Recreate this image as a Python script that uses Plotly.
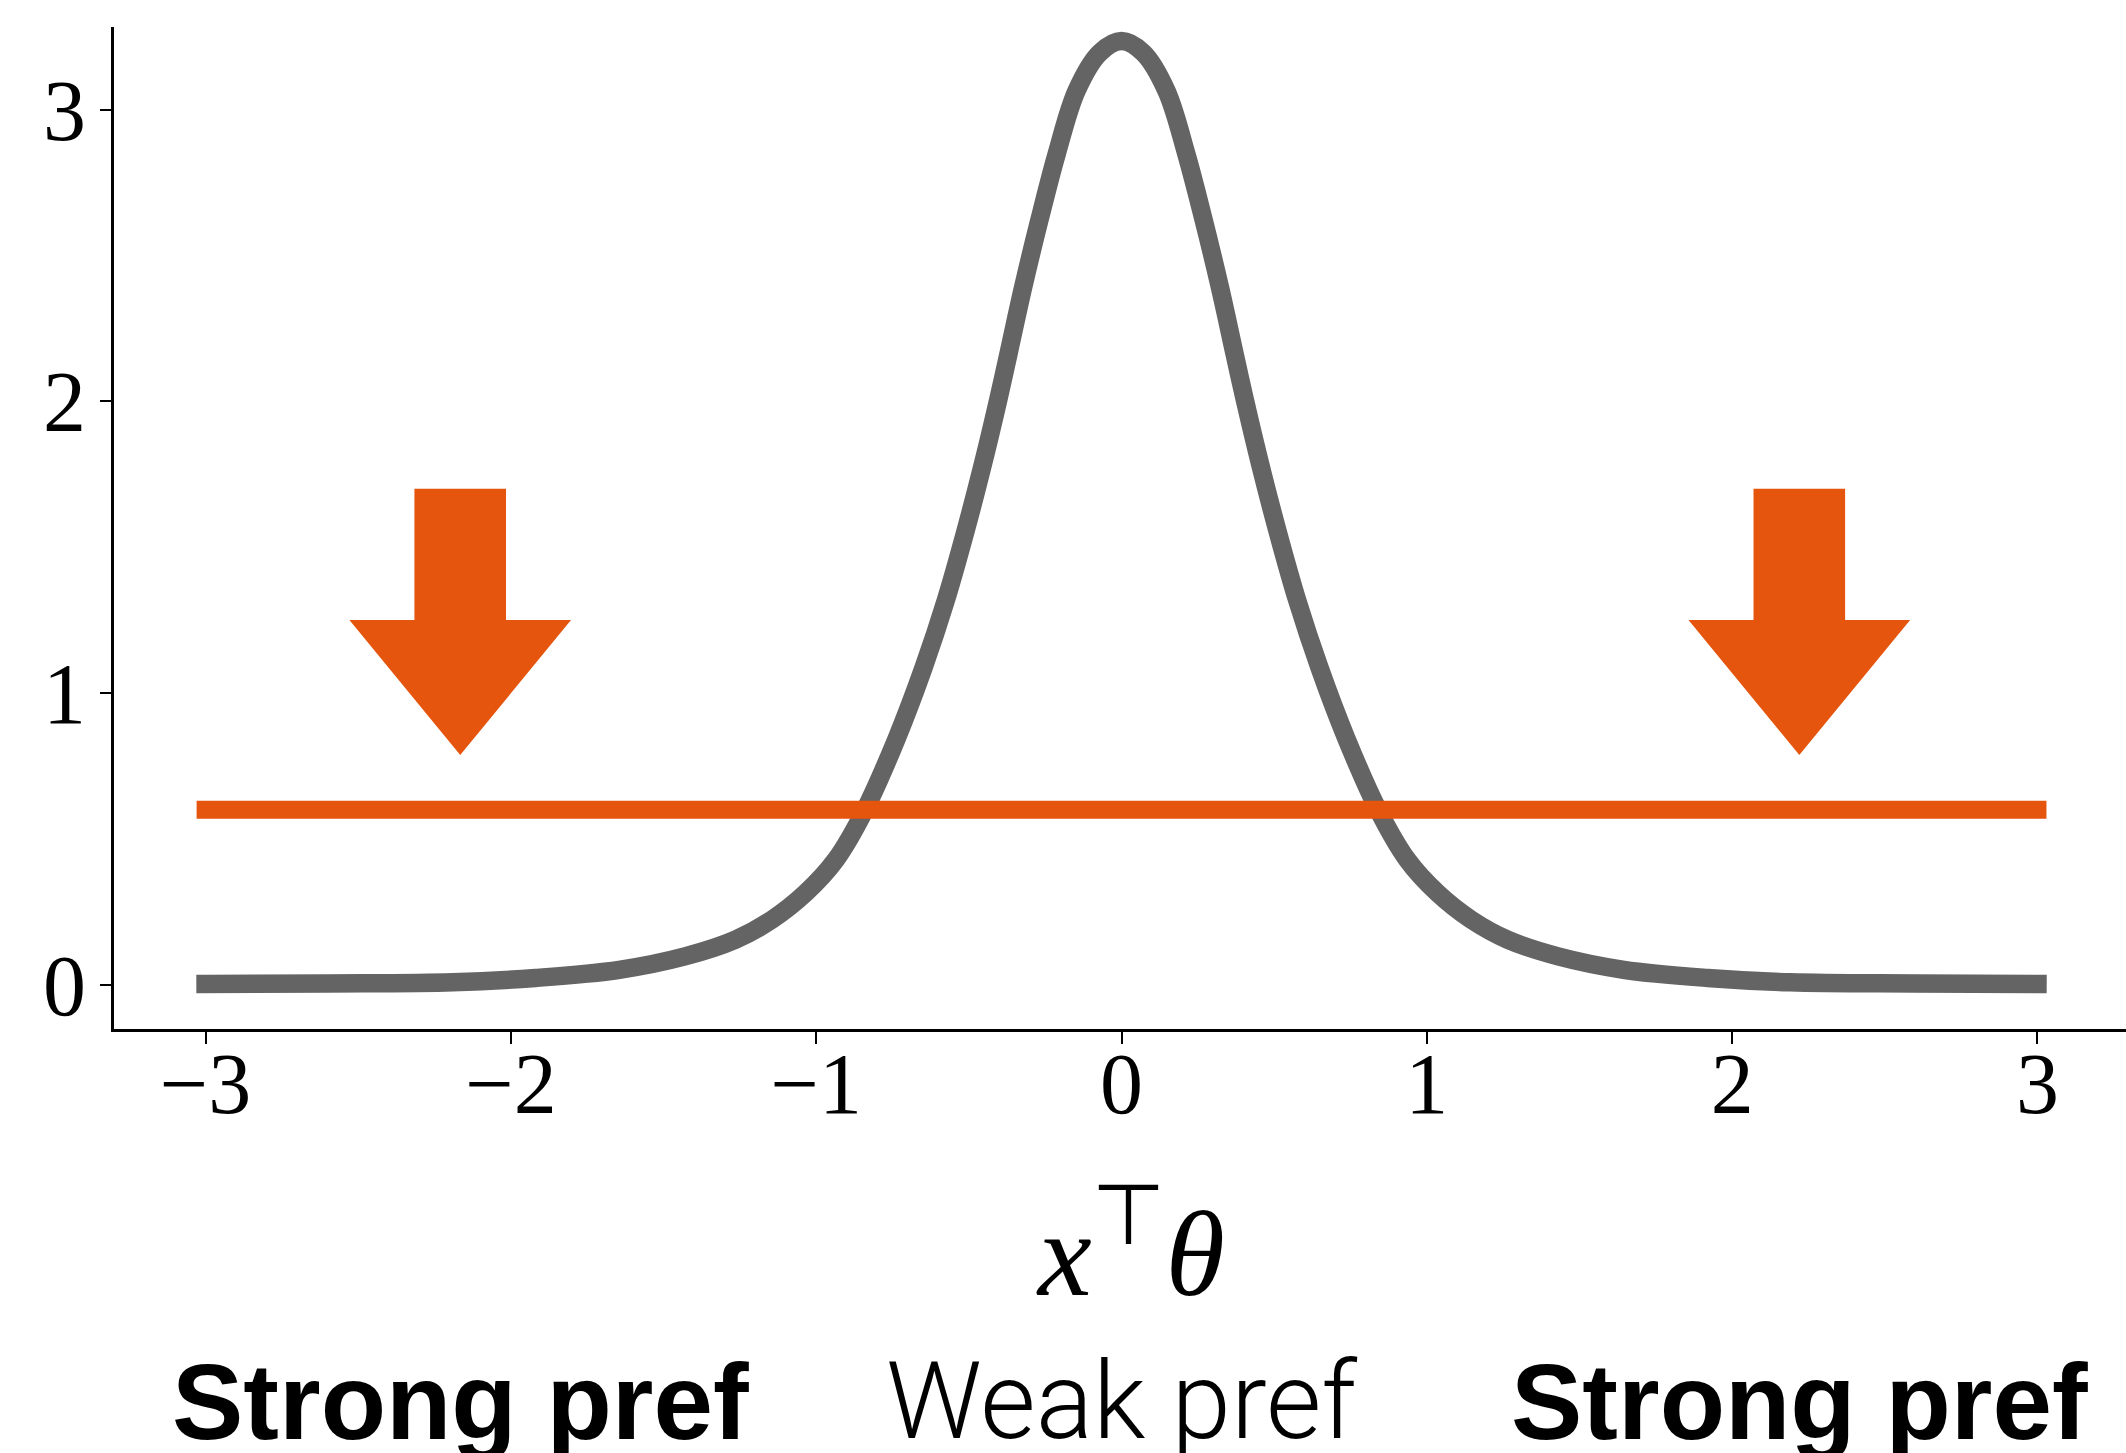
import plotly.graph_objects as go

# ---- data ----
curve_x = [-3.00, -2.60, -2.19, -1.92, -1.645, -1.43, -1.265, -1.145, -1.035, -0.936,
           -0.84, -0.736, -0.649, -0.575, -0.513, -0.456, -0.404, -0.37, -0.322, -0.269,
           -0.212, -0.147, -0.071, 0.0,
           0.071, 0.147, 0.212, 0.269, 0.322, 0.37, 0.404, 0.456, 0.513, 0.575, 0.649,
           0.736, 0.84, 0.936, 1.035, 1.145, 1.265, 1.43, 1.645, 1.92, 2.19, 2.60, 3.00]
curve_y = [0.002, 0.004, 0.008, 0.023, 0.051, 0.097, 0.154, 0.223, 0.314, 0.428,
           0.600, 0.845, 1.085, 1.319, 1.547, 1.776, 2.004, 2.164, 2.392, 2.621,
           2.849, 3.065, 3.195, 3.235,
           3.195, 3.065, 2.849, 2.621, 2.392, 2.164, 2.004, 1.776, 1.547, 1.319, 1.085,
           0.845, 0.600, 0.428, 0.314, 0.223, 0.154, 0.097, 0.051, 0.023, 0.008, 0.004, 0.002]

threshold_x = [-3.0, 3.0]
threshold_y = [0.6, 0.6]

arrow_x = [-2.166, 2.22]
arrow_start_y = 1.70
arrow_end_y = 0.787

xtick_vals = [-3, -2, -1, 0, 1, 2, 3]
xtick_text = ["\u22123", "\u22122", "\u22121", "0", "1", "2", "3"]
ytick_vals = [0, 1, 2, 3]
ytick_text = ["0", "1", "2", "3"]

labels = ["Strong pref", "Weak pref", "Strong pref"]
label_x = [-2.166, 0.0, 2.22]
label_bold = [True, False, True]

# ---- style ----
GREY = "#646464"
ORANGE = "#e6550d"
SHAFT_HALF = 0.15      # x data units
HEAD_HALF = 0.363      # x data units
HEAD_LEN = 0.463       # y data units
TICK_FONT = dict(family="Liberation Serif", size=86, color="black")

fig = go.Figure()
fig.add_trace(go.Scatter(x=curve_x, y=curve_y, mode="lines",
                         line=dict(color=GREY, width=18.5, shape="spline", smoothing=1.0),
                         hoverinfo="skip", showlegend=False))
fig.add_trace(go.Scatter(x=threshold_x, y=threshold_y, mode="lines",
                         line=dict(color=ORANGE, width=18),
                         hoverinfo="skip", showlegend=False))

for ax in arrow_x:
    hb = arrow_end_y + HEAD_LEN
    px = [ax - SHAFT_HALF, ax + SHAFT_HALF, ax + SHAFT_HALF, ax + HEAD_HALF, ax,
          ax - HEAD_HALF, ax - SHAFT_HALF, ax - SHAFT_HALF]
    py = [arrow_start_y, arrow_start_y, hb, hb, arrow_end_y, hb, hb, arrow_start_y]
    fig.add_trace(go.Scatter(x=px, y=py, mode="lines", fill="toself",
                             fillcolor=ORANGE, line=dict(width=0, color=ORANGE),
                             hoverinfo="skip", showlegend=False))

for txt, lx, b in zip(labels, label_x, label_bold):
    if b:
        font = dict(family="Liberation Sans", size=107, color="black", weight=700)
    else:
        font = dict(family="Roboto", size=107, color="black", weight=300)
    fig.add_annotation(x=lx, xref="x", y=-0.372, yref="paper", text=txt,
                       showarrow=False, xanchor="center", yanchor="middle", font=font)

fig.add_annotation(x=0.031, xref="x", y=-0.214, yref="paper",
                   text="<i>x</i><sup><span style=\"font-family:'DejaVu Sans'\">\u22a4</span></sup><i>\u03b8</i>",
                   showarrow=False, xanchor="center", yanchor="middle",
                   font=dict(family="Liberation Serif", size=121, color="black"))

fig.update_layout(
    width=2126, height=1453,
    margin=dict(l=114, r=0, t=27, b=424, pad=0),
    paper_bgcolor="white", plot_bgcolor="white",
    xaxis=dict(range=[-3.3, 3.29], tickvals=xtick_vals, ticktext=xtick_text,
               showgrid=False, zeroline=False, showline=True, linecolor="black",
               linewidth=2.5, ticks="outside", ticklen=12, tickwidth=2,
               tickcolor="black", tickfont=TICK_FONT, ticklabelstandoff=-34),
    yaxis=dict(range=[-0.152, 3.283], tickvals=ytick_vals, ticktext=ytick_text,
               showgrid=False, zeroline=False, showline=True, linecolor="black",
               linewidth=2.5, ticks="outside", ticklen=11, tickwidth=2,
               tickcolor="black", tickfont=TICK_FONT, ticklabelstandoff=-3),
)

post = """
document.body.style.margin='0';
var st=document.createElement('style');
st.innerHTML='.scatterlayer .js-line{stroke-linecap:square !important;}';
document.head.appendChild(st);
"""
fig.write_html("out.html", post_script=post, config={"displayModeBar": False})
